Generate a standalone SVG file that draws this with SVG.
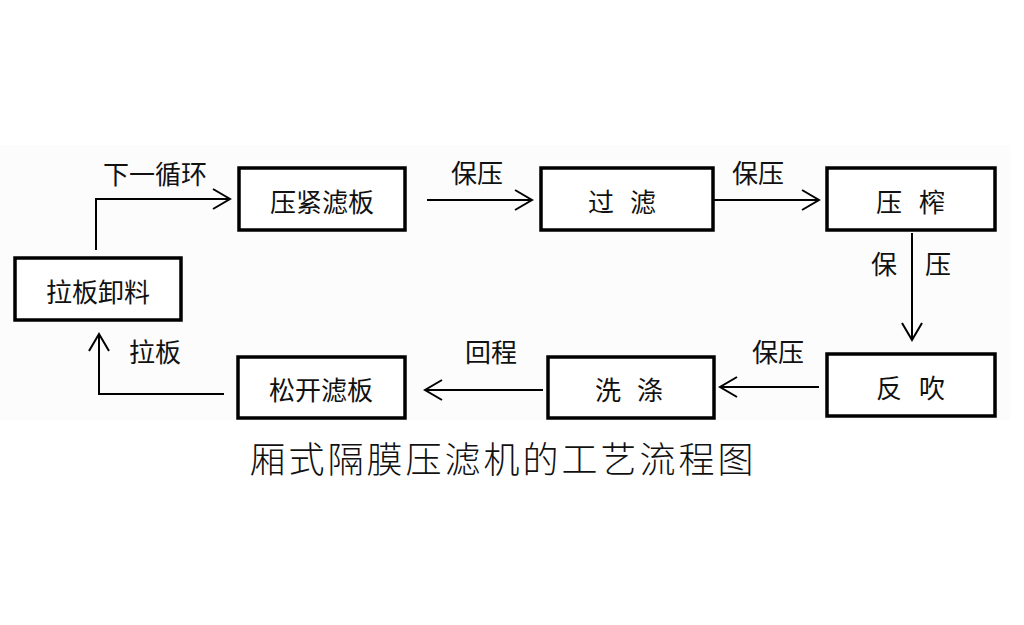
<svg xmlns="http://www.w3.org/2000/svg" width="1024" height="625" viewBox="0 0 1024 625">
<style>
.box{fill:#fff;stroke:#000;stroke-width:3.5}
.t{font-family:"Noto Sans CJK SC","Noto Sans CJK TC",sans-serif;font-size:26px;fill:#111;text-anchor:middle;dominant-baseline:central}
.c{fill:none;stroke:#000;stroke-width:2}
.title{font-family:"Noto Sans CJK SC",serif;font-size:36px;font-weight:300;letter-spacing:3px;fill:#111;text-anchor:middle;dominant-baseline:central}
</style>
<defs>
<marker id="arr" viewBox="-19 -12 21 24" refX="0" refY="0" markerWidth="21" markerHeight="24" markerUnits="userSpaceOnUse" orient="auto">
<path d="M-17,-10 L0,0 L-17,10" fill="none" stroke="#000" stroke-width="2"/>
</marker>
</defs>
<rect x="0" y="0" width="1024" height="625" fill="#fff"/>
<rect x="0" y="145" width="1010" height="275" fill="#fcfcfc"/>
<g id="connectors">
<path class="c" d="M96,250 V199 H230" marker-end="url(#arr)"/>
<path class="c" d="M427,200 H532" marker-end="url(#arr)"/>
<path class="c" d="M714,200 H819" marker-end="url(#arr)"/>
<path class="c" d="M912,233 V340" marker-end="url(#arr)"/>
<path class="c" d="M819,387 H720" marker-end="url(#arr)"/>
<path class="c" d="M543,390 H425" marker-end="url(#arr)"/>
<path class="c" d="M224,394 H99 V334" marker-end="url(#arr)"/>
<text class="t" x="155" y="172">下一循环</text>
<text class="t" x="477" y="171">保压</text>
<text class="t" x="758" y="171">保压</text>
<text class="t" x="884" y="262">保</text>
<text class="t" x="938" y="262">压</text>
<text class="t" x="778" y="350">保压</text>
<text class="t" x="491" y="350">回程</text>
<text class="t" x="155" y="350">拉板</text>
</g>
<g id="n1"><rect class="box" x="239" y="168" width="166" height="62"/><text class="t" x="322" y="200">压紧滤板</text></g>
<g id="n2"><rect class="box" x="541" y="168" width="172" height="62"/><text class="t" x="601 643" y="200">过滤</text></g>
<g id="n3"><rect class="box" x="827" y="168" width="168" height="62"/><text class="t" x="889 932" y="200">压榨</text></g>
<g id="n4"><rect class="box" x="827" y="354" width="168" height="62"/><text class="t" x="889 932" y="386">反吹</text></g>
<g id="n5"><rect class="box" x="548" y="357" width="166" height="61"/><text class="t" x="608 650" y="388">洗涤</text></g>
<g id="n6"><rect class="box" x="238" y="357" width="167" height="61"/><text class="t" x="321" y="388">松开滤板</text></g>
<g id="n7"><rect class="box" x="15" y="258" width="166" height="62"/><text class="t" x="98" y="290">拉板卸料</text></g>
<text class="title" x="503" y="457">厢式隔膜压滤机的工艺流程图</text>
</svg>
